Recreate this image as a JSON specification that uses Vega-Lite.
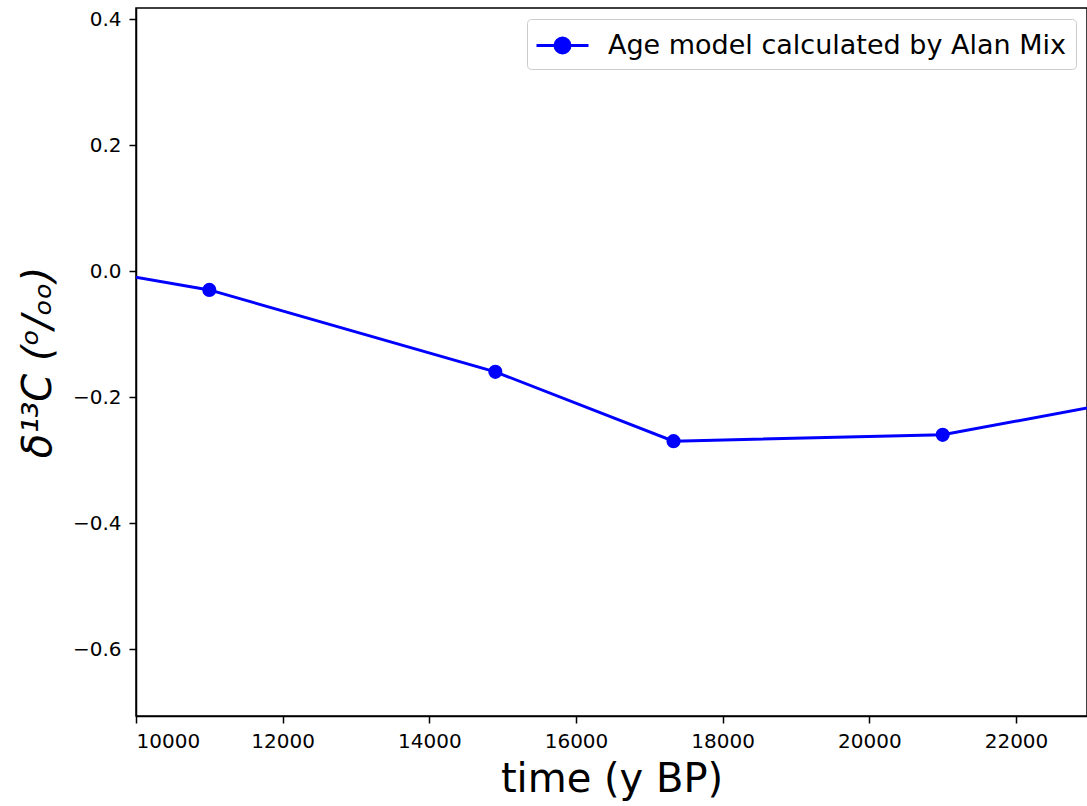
{
  "$schema": "https://vega.github.io/schema/vega-lite/v6.json",
  "width": 951,
  "height": 708,
  "autosize": {"type": "none"},
  "padding": {"left": 136, "top": 8, "right": 0, "bottom": 90},
  "background": "white",
  "data": {
    "values": [
      {"t": 9000, "d13c": 0.01, "series": "Age model calculated by Alan Mix"},
      {"t": 11000, "d13c": -0.03, "series": "Age model calculated by Alan Mix"},
      {"t": 14900, "d13c": -0.16, "series": "Age model calculated by Alan Mix"},
      {"t": 17330, "d13c": -0.27, "series": "Age model calculated by Alan Mix"},
      {"t": 21000, "d13c": -0.26, "series": "Age model calculated by Alan Mix"},
      {"t": 24000, "d13c": -0.195, "series": "Age model calculated by Alan Mix"}
    ]
  },
  "encoding": {
    "x": {
      "field": "t", "type": "quantitative",
      "scale": {"domain": [10000, 22968], "nice": false, "zero": false},
      "axis": {"title": "time (y BP)", "values": [10000, 12000, 14000, 16000, 18000, 20000, 22000], "format": "d", "grid": false}
    },
    "y": {
      "field": "d13c", "type": "quantitative",
      "scale": {"domain": [-0.7063, 0.4175], "nice": false, "zero": false},
      "axis": {"title": "δ¹³C  (ᵒ/ₒₒ)", "values": [-0.6, -0.4, -0.2, 0.0, 0.2, 0.4], "format": ".1f", "grid": false, "titleFontStyle": "italic"}
    },
    "color": {
      "field": "series", "type": "nominal",
      "scale": {"range": ["#0000ff"]},
      "legend": {
        "title": null,
        "orient": "top-right",
        "offset": 11,
        "symbolType": "M-1.733,0L1.733,0M0.5,0A0.5,0.5,0,1,1,-0.5,0A0.5,0.5,0,1,1,0.5,0Z",
        "symbolSize": 900,
        "symbolOffset": 9,
        "symbolFillColor": "#0000ff",
        "symbolStrokeColor": "#0000ff",
        "symbolStrokeWidth": 3,
        "labelFontSize": 27,
        "labelOffset": 29,
        "labelLimit": 1000,
        "labelColor": "black",
        "labelFont": "DejaVu Sans",
        "padding": 10,
        "strokeColor": "#cccccc",
        "fillColor": "white",
        "cornerRadius": 4
      }
    }
  },
  "layer": [
    {"mark": {"type": "line", "strokeWidth": 3, "clip": true}},
    {"mark": {"type": "point", "filled": true, "size": 200, "opacity": 1, "clip": true}}
  ],
  "config": {
    "font": "DejaVu Sans",
    "view": {"stroke": "black", "strokeWidth": 1.5},
    "axis": {
      "domainColor": "black", "domainWidth": 1.5,
      "tickColor": "black", "tickWidth": 1.5, "tickSize": 7,
      "labelFontSize": 20, "labelColor": "black", "labelPadding": 8,
      "titleFontSize": 40, "titleFontWeight": "normal", "titleColor": "black"
    },
    "axisX": {"titlePadding": 8},
    "axisY": {"titlePadding": 14}
  }
}
